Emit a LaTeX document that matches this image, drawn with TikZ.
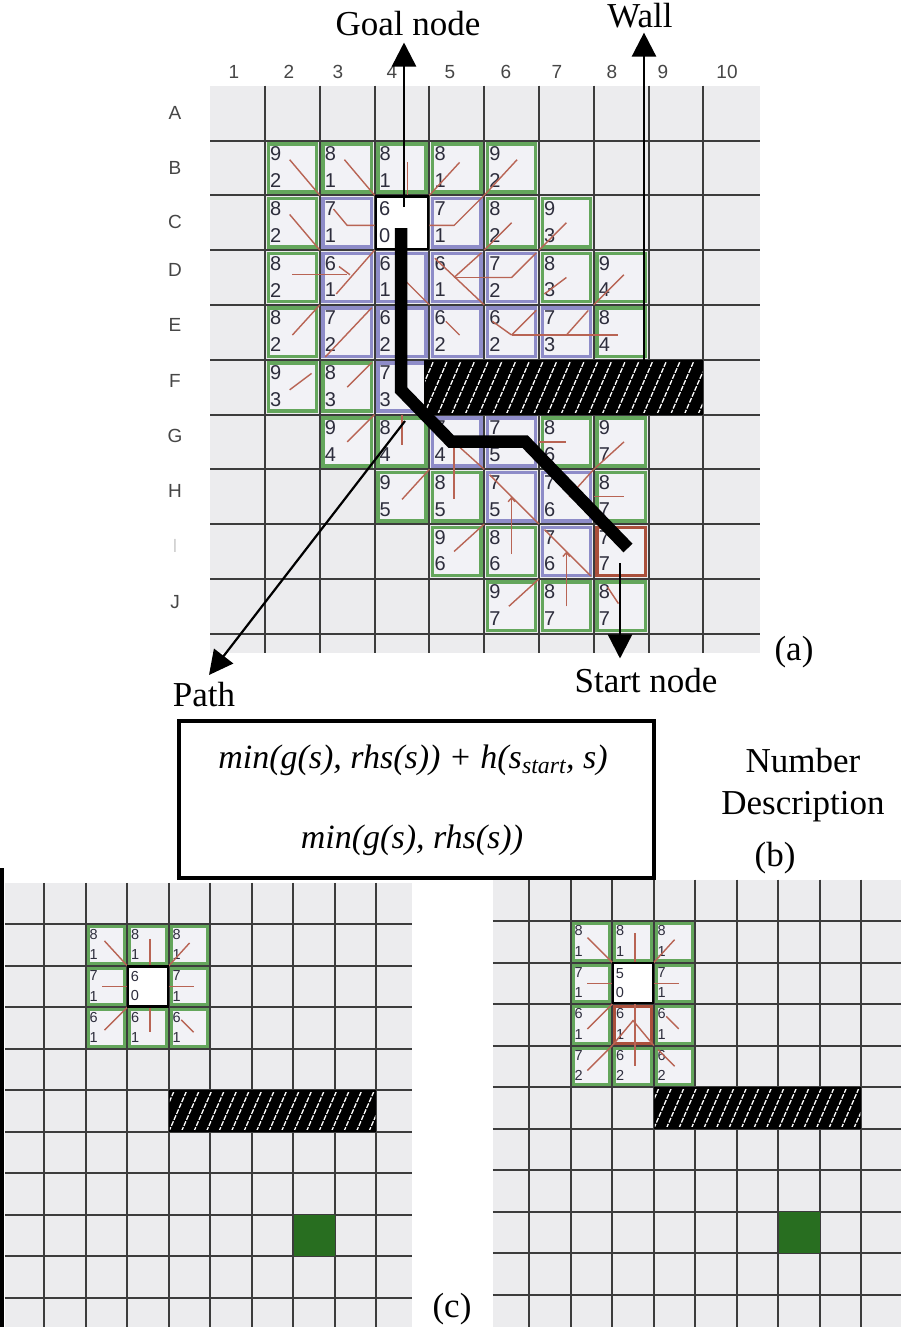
\documentclass[tikz,border=0pt]{standalone}
\usepackage{fontspec}
\setmainfont{Liberation Serif}
\newfontfamily\numfont{Liberation Sans}
\usetikzlibrary{arrows.meta}
\definecolor{gridbg}{RGB}{236,236,238}
\definecolor{gridln}{RGB}{60,60,60}
\definecolor{cellgreen}{RGB}{100,166,92}
\definecolor{cellblue}{RGB}{142,140,200}
\definecolor{cellfill}{RGB}{242,242,246}
\definecolor{ptrcol}{RGB}{184,100,84}
\definecolor{startcol}{RGB}{170,80,60}
\definecolor{numcol}{RGB}{45,45,60}
\definecolor{darkgreen}{RGB}{40,110,32}
\definecolor{lblgray}{RGB}{70,70,70}
\def\cellfs{17}
\def\cellbw{3.5pt}
\tikzset{
 gline/.style={draw=gridln,line width=2pt},
 gcellg/.style={draw=cellgreen,fill=cellfill,line width=\cellbw},
 gcellb/.style={draw=cellblue,fill=cellfill,line width=\cellbw},
 gcells/.style={draw=startcol,fill=cellfill,line width=\cellbw},
 goalbox/.style={draw=black,fill=white,line width=2.2pt,inner sep=0pt},
 num/.style={font=\numfont\fontsize{\cellfs}{\cellfs}\selectfont,text=numcol,inner sep=0pt,anchor=west},
 ptr/.style={draw=ptrcol,line width=1.4pt},
 ptrarr/.style={ptr,-{Straight Barb[length=4pt,width=7pt]}},
 lbl/.style={font=\fontsize{35}{40}\selectfont,inner sep=0pt},
 flbl/.style={font=\itshape\fontsize{34}{40}\selectfont,inner sep=0pt},
 axlbl/.style={font=\numfont\fontsize{19}{19}\selectfont,text=lblgray,inner sep=0pt},
 bigarrow/.style={draw=black,line width=2.6pt,-{Triangle[length=24pt,width=24pt]}},
 pathline/.style={draw=black,line width=12.5pt,line join=miter},
 wallbox/.style={fill=black,inner sep=0pt,outer sep=0pt,anchor=north west},
 hatch/.style={draw=white,line width=1.3pt,dash pattern=on 5pt off 1.5pt},
 greenbox/.style={fill=darkgreen,inner sep=0pt,outer sep=0pt,anchor=north west},
}
\newcommand{\mycell}[6]{%
  \path[#2] (#3-0.94,#4-0.94) rectangle (#3-0.06,#4-0.06);
  \node[num] (#1t#3x#4) at (#3-0.91,#4-0.76) {#5};
  \node[num] (#1b#3x#4) at (#3-0.91,#4-0.27) {#6};
}
\newcommand{\ptrl}[6]{\draw[ptr] (#1-1+#3,#2-1+#4) -- (#1-1+#5,#2-1+#6);}
\newcommand{\ptrp}[8]{\draw[ptr] (#1-1+#3,#2-1+#4) -- (#1-1+#5,#2-1+#6) -- (#1-1+#7,#2-1+#8);}
\newcommand{\ptra}[6]{\draw[ptrarr] (#1-1+#3,#2-1+#4) -- (#1-1+#5,#2-1+#6);}
\newcommand{\hatchin}[2]{%
  \begin{scope}
  \clip ([shift={(1,2)}]#1.north west) rectangle ([shift={(-1,-2)}]#1.south east);
  \foreach \k in {-4,...,26}{\draw[hatch] ([xshift=\k*#2pt]#1.south west) -- ++(27,-62);}
  \end{scope}}
\begin{document}
\begin{tikzpicture}[x=1pt,y=-1pt]
\useasboundingbox (0,0) rectangle (900,1327);
\fill[white] (0,0) rectangle (900,1327);

% ================= panel (a) =================
\def\cellfs{20}\def\cellbw{3.5pt}
\begin{scope}[shift={(210.2,85.7)},x=54.8pt,y=-54.8pt]
 \fill[gridbg] (0,0) rectangle (10.03,10.35);
 \foreach \i in {1,...,9} \draw[gline] (\i,0) -- (\i,10.35);
 \foreach \j in {1,...,10} \draw[gline] (0,\j) -- (10.03,\j);
 \mycell{a}{gcellg}{2}{2}{9}{2}
 \mycell{a}{gcellg}{3}{2}{8}{1}
 \mycell{a}{gcellg}{4}{2}{8}{1}
 \mycell{a}{gcellg}{5}{2}{8}{1}
 \mycell{a}{gcellg}{6}{2}{9}{2}
 \mycell{a}{gcellg}{2}{3}{8}{2}
 \mycell{a}{gcellb}{3}{3}{7}{1}
 \mycell{a}{gcellb}{5}{3}{7}{1}
 \mycell{a}{gcellg}{6}{3}{8}{2}
 \mycell{a}{gcellg}{7}{3}{9}{3}
 \mycell{a}{gcellg}{2}{4}{8}{2}
 \mycell{a}{gcellb}{3}{4}{6}{1}
 \mycell{a}{gcellb}{4}{4}{6}{1}
 \mycell{a}{gcellb}{5}{4}{6}{1}
 \mycell{a}{gcellb}{6}{4}{7}{2}
 \mycell{a}{gcellg}{7}{4}{8}{3}
 \mycell{a}{gcellg}{8}{4}{9}{4}
 \mycell{a}{gcellg}{2}{5}{8}{2}
 \mycell{a}{gcellb}{3}{5}{7}{2}
 \mycell{a}{gcellb}{4}{5}{6}{2}
 \mycell{a}{gcellb}{5}{5}{6}{2}
 \mycell{a}{gcellb}{6}{5}{6}{2}
 \mycell{a}{gcellb}{7}{5}{7}{3}
 \mycell{a}{gcellg}{8}{5}{8}{4}
 \mycell{a}{gcellg}{2}{6}{9}{3}
 \mycell{a}{gcellg}{3}{6}{8}{3}
 \mycell{a}{gcellb}{4}{6}{7}{3}
 \mycell{a}{gcellg}{3}{7}{9}{4}
 \mycell{a}{gcellg}{4}{7}{8}{4}
 \mycell{a}{gcellb}{5}{7}{7}{4}
 \mycell{a}{gcellb}{6}{7}{7}{5}
 \mycell{a}{gcellg}{7}{7}{8}{6}
 \mycell{a}{gcellg}{8}{7}{9}{7}
 \mycell{a}{gcellg}{4}{8}{9}{5}
 \mycell{a}{gcellg}{5}{8}{8}{5}
 \mycell{a}{gcellb}{6}{8}{7}{5}
 \mycell{a}{gcellb}{7}{8}{7}{6}
 \mycell{a}{gcellg}{8}{8}{8}{7}
 \mycell{a}{gcellg}{5}{9}{9}{6}
 \mycell{a}{gcellg}{6}{9}{8}{6}
 \mycell{a}{gcellb}{7}{9}{7}{6}
 \mycell{a}{gcells}{8}{9}{7}{7}
 \mycell{a}{gcellg}{6}{10}{9}{7}
 \mycell{a}{gcellg}{7}{10}{8}{7}
 \mycell{a}{gcellg}{8}{10}{8}{7}
 % pointers
 \ptrl{2}{2}{0.45}{0.35}{1}{1}
 \ptrl{3}{2}{0.45}{0.35}{1}{1}
 \ptrl{4}{2}{0.6}{0.4}{0.6}{1}
 \ptrl{5}{2}{0}{1}{0.55}{0.4}
 \ptrl{6}{2}{0}{1}{0.6}{0.35}
 \ptrl{2}{3}{0.45}{0.35}{1}{1}
 \ptrp{3}{3}{0.25}{0.25}{0.5}{0.55}{1}{0.55}
 \ptrp{5}{3}{0}{0.55}{0.45}{0.55}{1}{0}
 \ptrl{6}{3}{0}{1}{0.5}{0.5}
 \ptrl{7}{3}{0}{1}{0.5}{0.5}
 \ptrl{2}{4}{0.5}{0.45}{1.5}{0.45}
 \ptrl{3}{4}{0.3}{0.8}{1}{0}
 \ptrl{3}{4}{0.35}{0.3}{0.55}{0.45}
 \ptrl{4}{4}{0.5}{0.5}{1}{1}
 \ptrl{5}{4}{0.1}{0.15}{1}{1}
 \ptrl{5}{4}{0.45}{0.5}{0.95}{0.05}
 \ptrl{5}{4}{0.45}{0.5}{1}{0.5}
 \ptrp{6}{4}{0}{0.5}{0.5}{0.5}{0.95}{0.05}
 \ptrl{7}{4}{0.1}{0.8}{0.5}{0.5}
 \ptrl{8}{4}{0}{1}{0.55}{0.45}
 \ptrl{2}{5}{0.5}{0.55}{1}{0}
 \ptrl{3}{5}{0.1}{0.95}{0.95}{0.05}
 \ptrl{5}{5}{0.3}{0.3}{0.55}{0.55}
 \ptrl{6}{5}{0.15}{0.3}{0.5}{0.55}
 \ptrl{6}{5}{0.5}{0.55}{0.95}{0.1}
 \ptrl{6}{5}{0.5}{0.55}{1}{0.55}
 \ptrl{7}{5}{0}{0.55}{1}{0.55}
 \ptrl{7}{5}{0.5}{0.55}{0.9}{0.1}
 \ptrl{8}{5}{0}{0.55}{0.45}{0.55}
 \ptrl{2}{6}{0.45}{0.55}{0.85}{0.25}
 \ptrl{3}{6}{0.5}{0.5}{0.95}{0.05}
 \ptrl{3}{7}{0.5}{0.5}{1}{0}
 \ptrl{4}{7}{0.5}{0}{0.5}{0.55}
 \ptrl{5}{7}{0.45}{0.55}{0.45}{1.55}
 \ptrl{5}{7}{0.5}{0.55}{1}{1}
 \ptrl{7}{7}{0}{0.5}{0.5}{0.5}
 \ptrl{8}{7}{0}{1}{0.55}{0.5}
 \ptrl{4}{8}{0.5}{0.55}{1}{0}
 \ptrl{6}{8}{0.1}{0.1}{1}{1}
 \ptra{6}{8}{0.5}{1.55}{0.5}{0.5}
 \ptrl{7}{8}{0.55}{0.5}{1}{0}
 \ptrl{8}{8}{0}{0.5}{0.55}{0.5}
 \ptrl{5}{9}{0.45}{0.5}{1}{0}
 \ptrl{7}{9}{0.1}{0.1}{0.95}{0.95}
 \ptra{7}{9}{0.5}{1.5}{0.5}{0.5}
 \ptrl{6}{10}{0.45}{0.5}{1}{0}
 \ptrl{8}{10}{0.25}{0.15}{0.45}{0.45}
 % goal node
 \node[goalbox,minimum size=52.5pt] (goalA) at (3.5,2.5) {};
 \node[num] (agt) at (3.08,2.24) {6};
 \node[num] (agb) at (3.08,2.73) {0};
\end{scope}

% axis labels
\foreach \lx/\lt in {234/1,289/2,338/3,392/4,450/5,506/6,557/7,612/8,663/9,727/10}
  \node[axlbl] (col\lt) at (\lx,72) {\lt};
\foreach \ly/\lt in {113/A,168/B,222/C,270/D,325/E,381/F,436/G,491/H,602/J}
  \node[axlbl] (row\lt) at (175,\ly) {\lt};
\node[axlbl,text=gray!35] (rowI) at (175,546) {I};

% wall (a)
\node[wallbox,minimum width=279.4pt,minimum height=54.8pt] (wallA) at (424,359.7) {};
\hatchin{wallA}{13.7}

% path
\coordinate (p0) at (401,228);
\coordinate (p1) at (401,390);
\coordinate (p2) at (451,441.5);
\coordinate (p3) at (525,441.5);
\coordinate (p4) at (628,548);
\draw[pathline] (p0) -- (p1) -- (p2) -- (p3) -- (p4);

% labels and arrows (a)
\node[lbl] (goallbl) at (408,24) {Goal node};
\node[lbl] (walllbl) at (640,16) {Wall};
\node[lbl] (pathlbl) at (204,695) {Path};
\node[lbl] (startlbl) at (646,681) {Start node};
\node[lbl] (albl) at (794,652) {(a)};
\coordinate (ga) at (404,207);
\draw[bigarrow,shorten >=6pt] (ga) -- (ga |- goallbl.south);
\coordinate (wa) at (644,359.7);
\draw[bigarrow,shorten >=4pt] (wa) -- (wa |- walllbl.south);
\coordinate (pa) at (405,421);
\coordinate (pathtip) at (209,675);
\draw[bigarrow,line width=2.2pt] (pa) -- (pathtip);
\coordinate (sa) at (620,563);
\draw[bigarrow,line width=2.4pt,shorten >=10pt] (sa) -- (sa |- startlbl.north);

% ================= panel (b) =================
\node[draw=black,line width=3.5pt,minimum width=475pt,minimum height=157pt,anchor=north west,inner sep=0pt] (formbox) at (177,719) {};
\node[flbl] (f1) at (413,760) {min(g(s), rhs(s)) + h(s\textsubscript{start}, s)};
\node[flbl] (f2) at (412,840) {min(g(s), rhs(s))};
\node[lbl,align=center] (numdesc) at (803,785) {Number\\[2pt]Description};
\node[lbl] (blbl) at (775,858) {(b)};

% ================= panel (c) left =================
\def\cellfs{14.5}\def\cellbw{3pt}
\begin{scope}[shift={(2.8,882.8)},x=41.5pt,y=-41.5pt]
 \fill[gridbg] (0.05,0) rectangle (9.87,10.8);
 \foreach \i in {1,...,9} \draw[gline] (\i,0) -- (\i,10.8);
 \foreach \j in {1,...,10} \draw[gline] (0.05,\j) -- (9.87,\j);
 \mycell{l}{gcellg}{3}{2}{8}{1}
 \mycell{l}{gcellg}{4}{2}{8}{1}
 \mycell{l}{gcellg}{5}{2}{8}{1}
 \mycell{l}{gcellg}{3}{3}{7}{1}
 \mycell{l}{gcellg}{5}{3}{7}{1}
 \mycell{l}{gcellg}{3}{4}{6}{1}
 \mycell{l}{gcellg}{4}{4}{6}{1}
 \mycell{l}{gcellg}{5}{4}{6}{1}
 \ptrl{3}{2}{0.45}{0.4}{1}{1}
 \ptrl{4}{2}{0.55}{0.35}{0.55}{1}
 \ptrl{5}{2}{0}{1}{0.5}{0.45}
 \ptrl{3}{3}{0.4}{0.5}{1}{0.5}
 \ptrl{5}{3}{0}{0.5}{0.6}{0.5}
 \ptrl{3}{4}{0.45}{0.55}{1}{0}
 \ptrl{4}{4}{0.55}{0}{0.55}{0.6}
 \ptrl{5}{4}{0.3}{0.3}{0.6}{0.6}
 \node[goalbox,minimum size=40pt] (goalL) at (3.5,2.5) {};
 \node[num] (lgt) at (3.08,2.26) {6};
 \node[num] (lgb) at (3.08,2.72) {0};
 \node[greenbox,minimum size=41pt] (startL) at (7.01,8.01) {};
\end{scope}
\draw[black,line width=4pt] (2,868) -- (2,1327);
\node[wallbox,minimum width=207.5pt,minimum height=41.5pt] (wallL) at (168.8,1090.3) {};
\hatchin{wallL}{12.5}

% ================= panel (c) right =================
\begin{scope}[shift={(487.8,879.5)},x=41.5pt,y=-41.5pt]
 \fill[gridbg] (0.125,0) rectangle (10.1,10.8);
 \foreach \i in {1,...,9} \draw[gline] (\i,0) -- (\i,10.8);
 \foreach \j in {1,...,10} \draw[gline] (0.125,\j) -- (10.1,\j);
 \mycell{r}{gcellg}{3}{2}{8}{1}
 \mycell{r}{gcellg}{4}{2}{8}{1}
 \mycell{r}{gcellg}{5}{2}{8}{1}
 \mycell{r}{gcellg}{3}{3}{7}{1}
 \mycell{r}{gcellg}{5}{3}{7}{1}
 \mycell{r}{gcellg}{3}{4}{6}{1}
 \mycell{r}{gcells}{4}{4}{6}{1}
 \mycell{r}{gcellg}{5}{4}{6}{1}
 \mycell{r}{gcellg}{3}{5}{7}{2}
 \mycell{r}{gcellg}{4}{5}{6}{2}
 \mycell{r}{gcellg}{5}{5}{6}{2}
 \ptrl{3}{2}{0.4}{0.4}{1}{1}
 \ptrl{4}{2}{0.55}{0.3}{0.55}{1}
 \ptrl{5}{2}{0}{1}{0.5}{0.45}
 \ptrl{3}{3}{0.4}{0.5}{1}{0.5}
 \ptrl{5}{3}{0}{0.5}{0.6}{0.5}
 \ptrl{3}{4}{0.4}{0.6}{1}{0}
 \ptrp{4}{4}{0}{1}{0.5}{0.4}{1}{1}
 \ptrl{4}{4}{0.55}{0}{0.55}{1.5}
 \ptrl{5}{4}{0.3}{0.3}{0.6}{0.6}
 \ptrl{3}{5}{0.4}{0.6}{1}{0}
 \ptrl{5}{5}{0.1}{0.1}{0.5}{0.5}
 \node[goalbox,minimum size=40pt] (goalR) at (3.5,2.5) {};
 \node[num] (rgt) at (3.08,2.26) {5};
 \node[num] (rgb) at (3.08,2.72) {0};
 \node[greenbox,minimum size=41pt] (startR) at (7.01,8.01) {};
\end{scope}
\node[wallbox,minimum width=207.5pt,minimum height=41.5pt] (wallR) at (653.8,1087) {};
\hatchin{wallR}{12.5}

\node[lbl] (clbl) at (452,1309) {(c)};
\end{tikzpicture}
\end{document}
